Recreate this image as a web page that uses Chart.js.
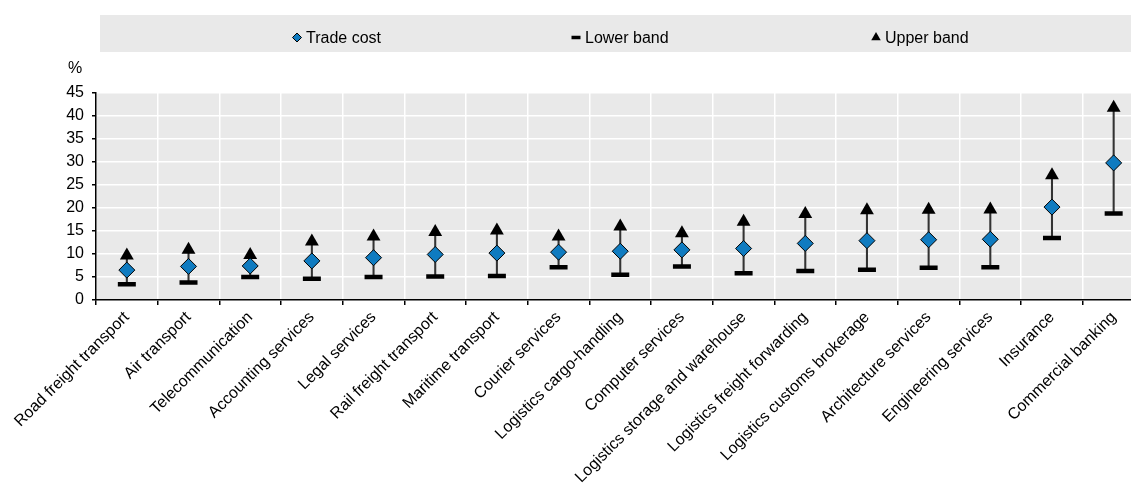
<!DOCTYPE html>
<html>
<head>
<meta charset="utf-8">
<title>Trade cost by services sector</title>
<script src="https://cdn.jsdelivr.net/npm/chart.js@4/dist/chart.umd.min.js"></script>
<style>
  html, body { margin: 0; padding: 0; background: #ffffff; overflow: hidden; }
  #wrap { width: 1158px; height: 484px; position: relative; }
</style>
</head>
<body>
<div id="wrap"><canvas id="chart" width="1158" height="484"></canvas></div>
<script>
// Sectors, in ascending order of trade cost
const categories = [
  "Road freight transport", "Air transport", "Telecommunication", "Accounting services",
  "Legal services", "Rail freight transport", "Maritime transport", "Courier services",
  "Logistics cargo-handling", "Computer services", "Logistics storage and warehouse",
  "Logistics freight forwarding", "Logistics customs brokerage", "Architecture services",
  "Engineering services", "Insurance", "Commercial banking"
];
// Trade cost estimate (%)
const tradeCost = [6.5, 7.3, 7.4, 8.5, 9.2, 9.9, 10.2, 10.4, 10.6, 10.9, 11.2, 12.3, 12.9, 13.1, 13.2, 20.2, 29.8];
// Lower and upper bounds of the band (%)
const lowerBand = [3.4, 3.8, 5.0, 4.6, 5.0, 5.1, 5.2, 7.1, 5.5, 7.3, 5.8, 6.3, 6.6, 7.0, 7.1, 13.5, 18.8];
const upperBand = [9.7, 10.9, 9.8, 12.7, 13.8, 14.8, 15.1, 13.8, 16.0, 14.5, 17.0, 18.7, 19.5, 19.6, 19.7, 27.1, 41.8];
// Value axis
const yTicks = { min: 0, max: 45, step: 5 };
const yUnit = "%";

const PANEL = "#e9e9e9";
const BLUE = "#0f7bc0";
const FONT = "'Liberation Sans', Arial, sans-serif";

// Range whisker for each sector, built from the band arrays
const whisker = categories.map((_, i) => [lowerBand[i], upperBand[i]]);

const panels = {
  id: "panels",
  beforeDraw(chart) {
    const { ctx, chartArea: a } = chart;
    ctx.save();
    ctx.fillStyle = PANEL;
    ctx.fillRect(100, 15, chart.width - 100, 37);
    ctx.fillRect(a.left, a.top, a.right - a.left, a.bottom - a.top);
    ctx.restore();
  },
  afterDraw(chart) {
    const ctx = chart.ctx;
    ctx.save();
    // unit label above the value axis
    ctx.fillStyle = "#000";
    ctx.font = "16px " + FONT;
    ctx.textAlign = "left";
    ctx.textBaseline = "alphabetic";
    ctx.fillText(yUnit, 68, 73);

    // legend entries
    const items = [
      { ds: 0, x: 297, style: { pointStyle: "rectRot", radius: 4.5, borderWidth: 1, rotation: 0 }, fill: BLUE, stroke: "#000" },
      { ds: 1, x: 576, style: { pointStyle: "line", radius: 4.5, borderWidth: 3.5, rotation: 0 }, fill: "#000", stroke: "#000" },
      { ds: 2, x: 876, style: { pointStyle: "triangle", radius: 5.5, borderWidth: 0, rotation: 0 }, fill: "#000", stroke: "#000" }
    ];
    const y = 37.5;
    items.forEach(it => {
      ctx.fillStyle = it.fill;
      ctx.strokeStyle = it.stroke;
      ctx.lineWidth = it.style.borderWidth;
      Chart.helpers.drawPoint(ctx, it.style, it.x, y);
      ctx.fillStyle = "#000";
      ctx.font = "16px " + FONT;
      ctx.textBaseline = "alphabetic";
      ctx.fillText(chart.data.datasets[it.ds].label, it.x + 9, 43);
    });
    ctx.restore();
  }
};

new Chart(document.getElementById("chart"), {
  type: "bar",
  data: {
    labels: categories,
    datasets: [
      {
        type: "line", label: "Trade cost", data: tradeCost, showLine: false, order: 1,
        pointStyle: "rectRot", pointRadius: 8, pointHoverRadius: 8,
        pointBackgroundColor: BLUE, pointBorderColor: "#000", pointBorderWidth: 1
      },
      {
        type: "line", label: "Lower band", data: lowerBand, showLine: false, order: 2,
        pointStyle: "line", pointRadius: 9, pointHoverRadius: 9,
        pointBackgroundColor: "#000", pointBorderColor: "#000", pointBorderWidth: 4.5
      },
      {
        type: "line", label: "Upper band", data: upperBand, showLine: false, order: 3,
        pointStyle: "triangle", pointRadius: 8, pointHoverRadius: 8,
        pointBackgroundColor: "#000", pointBorderColor: "#000", pointBorderWidth: 0
      },
      {
        type: "bar", label: "Band", data: whisker, order: 4,
        backgroundColor: "#333333", borderWidth: 0, barThickness: 1.4
      }
    ]
  },
  options: {
    responsive: false,
    animation: false,
    devicePixelRatio: 1,
    layout: { padding: { top: 93, right: 7, left: 0, bottom: 0 } },
    plugins: { legend: { display: false }, tooltip: { enabled: false }, title: { display: false } },
    scales: {
      x: {
        offset: true,
        grid: { display: true, offset: true, color: "#ffffff", lineWidth: 1.5, tickColor: "#000", tickLength: 5, drawTicks: true },
        border: { display: true, color: "#000", width: 1.5 },
        ticks: { color: "#000", font: { family: FONT, size: 16 }, minRotation: 45, maxRotation: 45, autoSkip: false, padding: 3 },
        afterFit(scale) { scale.height = 184; }
      },
      y: {
        min: yTicks.min, max: yTicks.max,
        grid: { color: "#ffffff", lineWidth: 1.5, tickColor: "#000", tickLength: 4, drawTicks: true },
        border: { display: true, color: "#000", width: 1.5 },
        ticks: { stepSize: yTicks.step, color: "#000", font: { family: FONT, size: 16 }, padding: 8 },
        afterFit(scale) { scale.width = 96; }
      }
    }
  },
  plugins: [panels]
});
</script>
</body>
</html>
